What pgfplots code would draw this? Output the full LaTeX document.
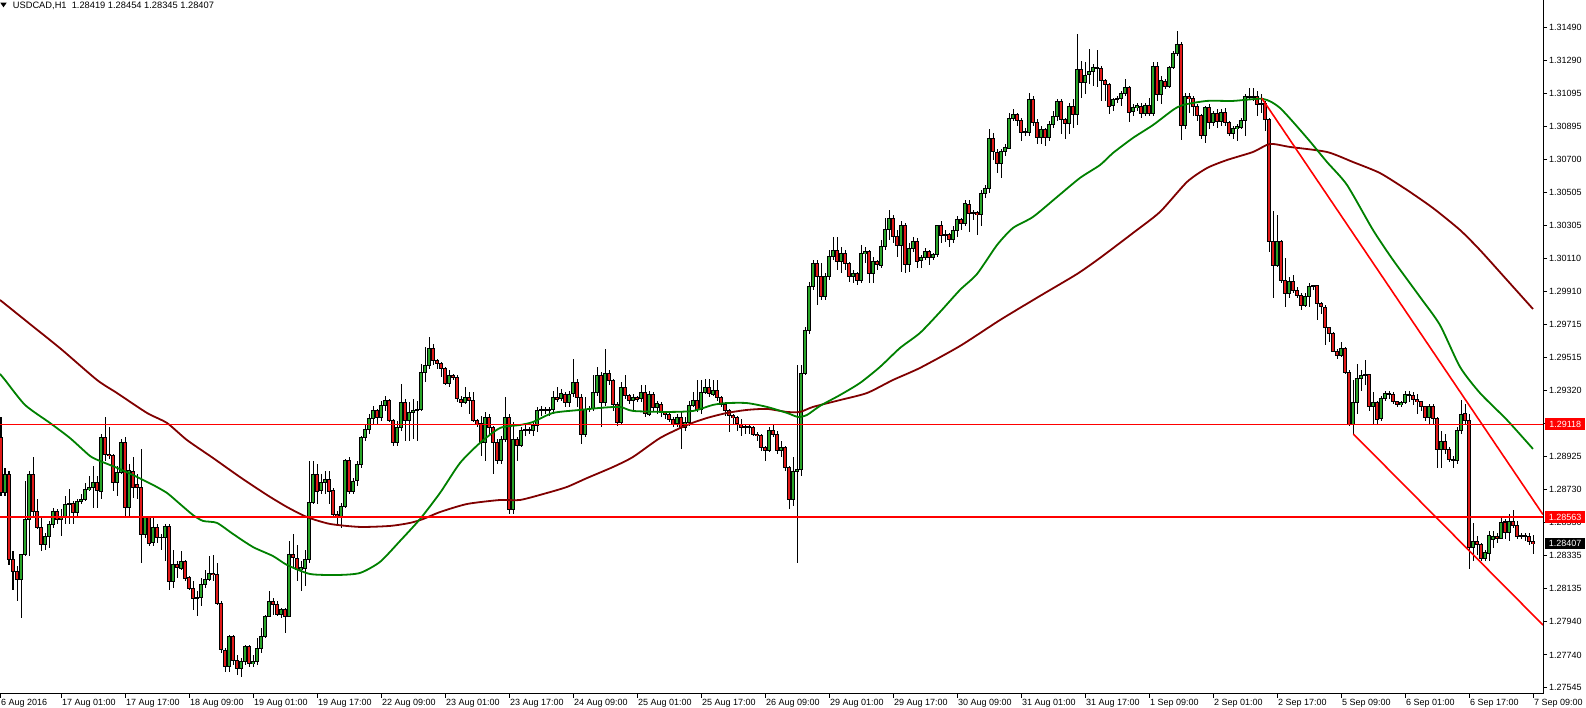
\documentclass[border=0pt]{standalone}
\usepackage{pgfplots}
\pgfplotsset{compat=1.18}
\usepackage{pgfplotstable}
\usepackage{fontspec}
\setmainfont{Liberation Sans}
\newcommand{\tf}{\fontsize{9}{10}\selectfont}
\definecolor{bull}{RGB}{40,165,40}
\definecolor{bear}{RGB}{225,25,25}
\definecolor{mafast}{RGB}{0,128,0}
\definecolor{maslow}{RGB}{128,0,0}
\pgfplotstableread{
k o h l c
1 1.2904 1.2916 1.2869 1.2871
2 1.2871 1.2886 1.2869 1.2882
3 1.2882 1.2884 1.2828 1.2831
4 1.2831 1.2836 1.2813 1.2824
5 1.2824 1.2827 1.2806 1.2819
6 1.2819 1.2834 1.2796 1.2834
7 1.2834 1.2878 1.2833 1.2855
8 1.2855 1.2884 1.2833 1.2882
9 1.2882 1.2892 1.2856 1.2860
10 1.2860 1.2867 1.2849 1.2850
11 1.2850 1.2856 1.2836 1.2840
12 1.2840 1.2847 1.2837 1.2845
13 1.2845 1.2854 1.2838 1.2852
14 1.2852 1.2862 1.2850 1.2860
15 1.2860 1.2861 1.2852 1.2855
16 1.2855 1.2861 1.2845 1.2857
17 1.2857 1.2869 1.2852 1.2864
18 1.2864 1.2873 1.2852 1.28645
19 1.28645 1.2866 1.2852 1.2859
20 1.2859 1.2867 1.2857 1.2866
21 1.2866 1.2870 1.2864 1.2867
22 1.2867 1.2877 1.2866 1.2873
23 1.2873 1.2881 1.2872 1.2874
24 1.2874 1.2887 1.2862 1.2877
25 1.2877 1.2881 1.2862 1.2872
26 1.2872 1.2906 1.2867 1.2904
27 1.2904 1.2916 1.2890 1.2894
28 1.2894 1.2910 1.2891 1.2893
29 1.2893 1.2894 1.2872 1.2877
30 1.2877 1.2887 1.2869 1.2883
31 1.2883 1.2903 1.2882 1.2901
32 1.2901 1.2904 1.2856 1.2862
33 1.2862 1.2888 1.2856 1.2884
34 1.2884 1.2892 1.2868 1.2874
35 1.2876 1.2882 1.2867 1.2874
36 1.2874 1.2897 1.2829 1.2846
37 1.2846 1.2857 1.2844 1.2856
38 1.2856 1.2857 1.2839 1.2841
39 1.2841 1.2857 1.2839 1.2850
40 1.2850 1.2852 1.2841 1.2844
41 1.2844 1.2846 1.2837 1.28445
42 1.28445 1.2852 1.2830 1.2851
43 1.2851 1.2852 1.2813 1.2818
44 1.2818 1.2837 1.2814 1.2828
45 1.2828 1.2830 1.2820 1.2826
46 1.2826 1.2836 1.2825 1.2830
47 1.2830 1.2831 1.2818 1.2820
48 1.2820 1.2821 1.2813 1.2814
49 1.2814 1.2818 1.2801 1.2808
50 1.2808 1.2812 1.2797 1.28085
51 1.28085 1.2820 1.2803 1.2816
52 1.2816 1.2825 1.2814 1.2819
53 1.2819 1.2833 1.2818 1.2823
54 1.2823 1.2834 1.2818 1.2822
55 1.2822 1.2829 1.2804 1.2805
56 1.2805 1.2806 1.2775 1.2777
57 1.2777 1.2778 1.2764 1.2767
58 1.2767 1.2786 1.2764 1.2785
59 1.2785 1.2786 1.2768 1.2771
60 1.2771 1.2774 1.2762 1.2766
61 1.2766 1.2772 1.2761 1.2770
62 1.2770 1.2780 1.2768 1.2779
63 1.2779 1.2780 1.2767 1.2769
64 1.2769 1.2774 1.2767 1.2770
65 1.2770 1.2784 1.2768 1.2778
66 1.2778 1.2790 1.2775 1.2785
67 1.2785 1.2798 1.2784 1.2797
68 1.2797 1.2812 1.2797 1.2806
69 1.2806 1.2808 1.2798 1.2804
70 1.2804 1.2806 1.2797 1.2798
71 1.2798 1.2802 1.2796 1.2801
72 1.2801 1.2802 1.2787 1.2797
73 1.2797 1.2842 1.2797 1.2834
74 1.2834 1.2846 1.2826 1.2832
75 1.2832 1.2840 1.2818 1.2825
76 1.2825 1.2830 1.2812 1.2826
77 1.2826 1.2837 1.2815 1.2831
78 1.2831 1.2890 1.2829 1.2865
79 1.2865 1.2890 1.2864 1.2882
80 1.2882 1.2888 1.2864 1.2872
81 1.2872 1.2882 1.2870 1.2877
82 1.2877 1.2884 1.2870 1.2879
83 1.2879 1.2884 1.2864 1.2872
84 1.2872 1.2874 1.2856 1.2858
85 1.2858 1.2860 1.2852 1.2856
86 1.2856 1.2865 1.2850 1.2863
87 1.2863 1.2891 1.2862 1.2890
88 1.2890 1.2892 1.2870 1.2872
89 1.2872 1.2880 1.2870 1.2878
90 1.2878 1.2890 1.2875 1.2888
91 1.2888 1.2905 1.2886 1.2904
92 1.2904 1.2912 1.2902 1.2909
93 1.2909 1.2918 1.2906 1.2915
94 1.2915 1.2923 1.2912 1.2920
95 1.2920 1.2921 1.2912 1.2916
96 1.2916 1.2926 1.2914 1.2923
97 1.2923 1.2929 1.2920 1.2926
98 1.2926 1.2927 1.2913 1.2914
99 1.2914 1.2915 1.2899 1.2901
100 1.2901 1.2914 1.2899 1.2910
101 1.2910 1.2936 1.2908 1.2925
102 1.2925 1.2927 1.2902 1.2914
103 1.2914 1.2925 1.2902 1.2919
104 1.2919 1.2927 1.2903 1.2920
105 1.2920 1.2926 1.2902 1.29205
106 1.29205 1.2948 1.2920 1.2943
107 1.2943 1.2958 1.2937 1.2947
108 1.2947 1.2964 1.2945 1.2957
109 1.2957 1.2960 1.2947 1.2950
110 1.2950 1.2951 1.2945 1.2948
111 1.2948 1.2949 1.2940 1.2945
112 1.2945 1.2946 1.2935 1.2936
113 1.2936 1.2944 1.2934 1.2941
114 1.2941 1.2942 1.2938 1.2940
115 1.2940 1.2941 1.2925 1.2927
116 1.2927 1.2929 1.2922 1.2925
117 1.2925 1.2934 1.2924 1.2928
118 1.2928 1.2931 1.2918 1.2926
119 1.2926 1.2931 1.2913 1.2914
120 1.2914 1.2915 1.2910 1.2912
121 1.2912 1.2917 1.2893 1.2901
122 1.2901 1.2919 1.2890 1.2916
123 1.2916 1.2918 1.2905 1.2910
124 1.2910 1.2911 1.2882 1.2901
125 1.2901 1.2903 1.2888 1.2890
126 1.2890 1.2905 1.2888 1.2903
127 1.2903 1.2928 1.2901 1.2916
128 1.2916 1.2918 1.2858 1.2861
129 1.2861 1.2913 1.2858 1.2903
130 1.2903 1.2904 1.2890 1.2899
131 1.2899 1.2910 1.2898 1.2908
132 1.2908 1.2912 1.2905 1.29085
133 1.29085 1.2910 1.2906 1.2908
134 1.2908 1.2914 1.2905 1.2911
135 1.2911 1.2922 1.2907 1.2920
136 1.2920 1.2923 1.2917 1.29205
137 1.29205 1.2922 1.2918 1.2920
138 1.2920 1.2922 1.2917 1.29205
139 1.29205 1.2932 1.2918 1.2928
140 1.2928 1.2934 1.2925 1.2927
141 1.2927 1.2933 1.2926 1.2930
142 1.2930 1.2931 1.2922 1.2925
143 1.2925 1.2932 1.2922 1.2930
144 1.2930 1.2951 1.2928 1.2937
145 1.2937 1.2939 1.2922 1.2928
146 1.2928 1.2930 1.2900 1.2906
147 1.2906 1.2928 1.2904 1.2921
148 1.2921 1.2923 1.2919 1.29215
149 1.29215 1.2941 1.2920 1.2931
150 1.2931 1.2946 1.2929 1.2941
151 1.2941 1.2943 1.2910 1.2925
152 1.2925 1.2957 1.2923 1.2942
153 1.2942 1.2944 1.2935 1.2938
154 1.2938 1.2939 1.2920 1.2924
155 1.2924 1.2925 1.2911 1.2913
156 1.2913 1.2937 1.2912 1.2934
157 1.2934 1.2941 1.2927 1.2929
158 1.2929 1.2930 1.2924 1.2926
159 1.2926 1.2930 1.2920 1.2928
160 1.2928 1.2929 1.2925 1.2927
161 1.2927 1.2935 1.2925 1.2931
162 1.2931 1.2935 1.2916 1.2918
163 1.2918 1.2932 1.2917 1.2930
164 1.2930 1.2931 1.2920 1.2922
165 1.2922 1.2926 1.2918 1.2924
166 1.2924 1.2925 1.2916 1.2919
167 1.2919 1.2920 1.2915 1.2918
168 1.2918 1.2919 1.2913 1.2915
169 1.2915 1.2916 1.2910 1.2912
170 1.2912 1.2918 1.2910 1.2916
171 1.2916 1.2919 1.2897 1.2910
172 1.2910 1.2916 1.2908 1.2913
173 1.2913 1.2926 1.2911 1.2923
174 1.2923 1.2931 1.2922 1.2926
175 1.2926 1.2938 1.2919 1.2921
176 1.2921 1.2938 1.2918 1.2931
177 1.2931 1.2939 1.2930 1.2934
178 1.2934 1.2939 1.2928 1.2930
179 1.2930 1.2938 1.2929 1.2932
180 1.2932 1.2938 1.2926 1.2928
181 1.2928 1.2929 1.2922 1.2924
182 1.2924 1.2925 1.2917 1.2920
183 1.2920 1.2921 1.2907 1.2917
184 1.2917 1.2918 1.2912 1.2916
185 1.2916 1.2917 1.2908 1.2912
186 1.2912 1.2915 1.2905 1.2910
187 1.2910 1.2912 1.2906 1.29105
188 1.29105 1.2912 1.2906 1.2910
189 1.2910 1.2911 1.2905 1.2906
190 1.2906 1.2907 1.2902 1.2905
191 1.2905 1.2906 1.2896 1.2898
192 1.2898 1.2899 1.2890 1.2896
193 1.2896 1.2910 1.2895 1.2908
194 1.2908 1.2912 1.2904 1.2906
195 1.2906 1.2908 1.2894 1.2896
196 1.2896 1.2902 1.2892 1.2898
197 1.2898 1.2899 1.2884 1.2886
198 1.2886 1.2887 1.2861 1.2867
199 1.2867 1.2892 1.2863 1.2884
200 1.2884 1.2947 1.2829 1.2885
201 1.2885 1.2947 1.2881 1.2942
202 1.2942 1.2970 1.2941 1.2968
203 1.2968 1.2997 1.2966 1.2994
204 1.2994 1.3010 1.2992 1.3008
205 1.3008 1.3010 1.2983 1.3000
206 1.3000 1.3008 1.2986 1.2988
207 1.2988 1.3002 1.2986 1.3000
208 1.3000 1.3016 1.2998 1.3012
209 1.3012 1.3024 1.3010 1.3016
210 1.3016 1.3024 1.3004 1.3009
211 1.3009 1.3018 1.3002 1.3014
212 1.3014 1.3016 1.3004 1.3008
213 1.3008 1.3009 1.2997 1.3000
214 1.3000 1.3004 1.2996 1.3002
215 1.3002 1.3003 1.2995 1.2998
216 1.2998 1.3019 1.2996 1.3014
217 1.3014 1.3018 1.3008 1.3015
218 1.3015 1.3016 1.2996 1.3002
219 1.3002 1.3012 1.2996 1.3009
220 1.3009 1.3010 1.3004 1.3007
221 1.3007 1.3022 1.3005 1.3018
222 1.3018 1.3035 1.3016 1.3028
223 1.3028 1.3040 1.3022 1.3035
224 1.3035 1.3037 1.3020 1.3024
225 1.3024 1.3028 1.3012 1.30185
226 1.30185 1.3033 1.3003 1.30305
227 1.30305 1.3032 1.3002 1.30075
228 1.30075 1.3020 1.3003 1.3017
229 1.3017 1.3024 1.3015 1.3021
230 1.3021 1.3023 1.3005 1.30095
231 1.30095 1.3013 1.3005 1.30115
232 1.30115 1.3017 1.3010 1.3015
233 1.3015 1.3016 1.3007 1.30115
234 1.30115 1.3014 1.3010 1.30135
235 1.30135 1.3031 1.3012 1.30305
236 1.30305 1.3033 1.3020 1.3025
237 1.3025 1.3028 1.3021 1.30255
238 1.30255 1.3026 1.3018 1.3022
239 1.3022 1.3030 1.3020 1.30275
240 1.30275 1.3036 1.3024 1.3034
241 1.3034 1.3035 1.3028 1.3032
242 1.3032 1.3046 1.3030 1.30435
243 1.30435 1.3046 1.30265 1.3038
244 1.3038 1.3040 1.3034 1.30385
245 1.30385 1.3039 1.3025 1.3037
246 1.3037 1.3052 1.3030 1.30495
247 1.30495 1.3055 1.3047 1.30525
248 1.30525 1.3088 1.3050 1.30825
249 1.30825 1.3086 1.3070 1.30745
250 1.30745 1.3076 1.3062 1.3068
251 1.3068 1.3076 1.3059 1.3075
252 1.3075 1.3079 1.3072 1.3077
253 1.3077 1.3098 1.3076 1.30945
254 1.30945 1.3100 1.3093 1.3097
255 1.3097 1.3098 1.3090 1.30935
256 1.30935 1.3095 1.3081 1.30865
257 1.30865 1.3089 1.3084 1.3086
258 1.3086 1.3110 1.3084 1.3106
259 1.3106 1.3108 1.3090 1.3092
260 1.3092 1.3094 1.3079 1.30835
261 1.30835 1.3090 1.3079 1.3088
262 1.3088 1.3089 1.3078 1.3083
263 1.3083 1.3093 1.3081 1.3091
264 1.3091 1.3099 1.3089 1.3096
265 1.3096 1.3106 1.3093 1.3105
266 1.3105 1.3106 1.3085 1.3094
267 1.3094 1.3095 1.3082 1.30915
268 1.30915 1.3104 1.3085 1.31015
269 1.31015 1.3106 1.3089 1.3097
270 1.3097 1.3145 1.30905 1.3124
271 1.3124 1.3129 1.3107 1.3116
272 1.3116 1.3128 1.3109 1.31205
273 1.31205 1.3136 1.3115 1.31225
274 1.31225 1.3127 1.3114 1.3125
275 1.3125 1.31355 1.31135 1.31245
276 1.31245 1.3126 1.3105 1.3117
277 1.3117 1.3118 1.3105 1.3115
278 1.3115 1.3116 1.3097 1.3102
279 1.3102 1.3107 1.3099 1.3106
280 1.3106 1.3108 1.3104 1.31065
281 1.31065 1.3111 1.3102 1.31095
282 1.31095 1.3118 1.3108 1.3113
283 1.3113 1.3114 1.30925 1.30985
284 1.30985 1.3103 1.3096 1.3101
285 1.3101 1.3104 1.3099 1.3102
286 1.3102 1.3104 1.3095 1.30975
287 1.30975 1.3104 1.3096 1.31025
288 1.31025 1.3107 1.3096 1.30975
289 1.30975 1.3128 1.3096 1.31255
290 1.31255 1.3128 1.3105 1.3109
291 1.3109 1.3120 1.3103 1.3117
292 1.3117 1.3118 1.3112 1.3114
293 1.3114 1.3126 1.3113 1.3125
294 1.3125 1.3135 1.3124 1.31335
295 1.31335 1.3147 1.3132 1.31385
296 1.31385 1.3140 1.30815 1.30905
297 1.30905 1.3110 1.3088 1.31075
298 1.31075 1.3110 1.3098 1.31065
299 1.31065 1.3108 1.3096 1.31015
300 1.31015 1.3103 1.3093 1.30965
301 1.30965 1.3097 1.3082 1.30845
302 1.30845 1.3102 1.3080 1.3101
303 1.3101 1.3103 1.3088 1.3092
304 1.3092 1.3099 1.3090 1.30975
305 1.30975 1.3100 1.3089 1.3093
306 1.3093 1.3100 1.3090 1.3098
307 1.3098 1.3101 1.3090 1.3092
308 1.3092 1.3093 1.3084 1.30855
309 1.30855 1.3090 1.3082 1.30885
310 1.30885 1.3091 1.3081 1.30895
311 1.30895 1.3095 1.3088 1.30935
312 1.30935 1.3109 1.3084 1.31075
313 1.31075 1.3113 1.3106 1.3108
314 1.3108 1.3113 1.3105 1.31075
315 1.31075 1.3111 1.3096 1.3103
316 1.3103 1.3109 1.3098 1.31035
317 1.31035 1.3105 1.3087 1.3094
318 1.3094 1.3095 1.3015 1.3021
319 1.3021 1.3039 1.2987 1.3007
320 1.3007 1.3037 1.3006 1.3021
321 1.3021 1.3022 1.2996 1.2998
322 1.2998 1.3011 1.2982 1.2990
323 1.2990 1.3000 1.2987 1.2997
324 1.2997 1.3001 1.2990 1.2992
325 1.2992 1.2994 1.2987 1.2989
326 1.2989 1.2990 1.2980 1.2983
327 1.2983 1.2990 1.2982 1.2988
328 1.2988 1.2996 1.2982 1.2994
329 1.2994 1.2995 1.2992 1.29945
330 1.29945 1.2995 1.2974 1.2984
331 1.2984 1.2985 1.2978 1.2982
332 1.2982 1.2983 1.2959 1.29695
333 1.29695 1.2970 1.2961 1.2966
334 1.2966 1.2967 1.2955 1.29555
335 1.29555 1.2957 1.2951 1.2953
336 1.2953 1.2961 1.2952 1.2957
337 1.2957 1.2958 1.2942 1.2943
338 1.2943 1.2944 1.2911 1.29115
339 1.29115 1.2938 1.2906 1.2925
340 1.2925 1.2948 1.2918 1.29395
341 1.29395 1.2944 1.2932 1.2941
342 1.2941 1.2950 1.2935 1.29415
343 1.29415 1.2942 1.2920 1.29225
344 1.29225 1.2931 1.2912 1.2925
345 1.2925 1.2926 1.2912 1.2915
346 1.2915 1.2929 1.2914 1.2927
347 1.2927 1.2932 1.2926 1.2930
348 1.2930 1.2932 1.2927 1.29295
349 1.29295 1.2931 1.2924 1.29255
350 1.29255 1.2926 1.2922 1.29235
351 1.29235 1.2926 1.2922 1.2925
352 1.2925 1.2932 1.2924 1.29295
353 1.29295 1.2932 1.2925 1.2929
354 1.2929 1.2931 1.29235 1.29265
355 1.29265 1.2930 1.2918 1.29255
356 1.29255 1.2926 1.2920 1.29225
357 1.29225 1.2923 1.2914 1.2916
358 1.2916 1.2924 1.2912 1.29225
359 1.29225 1.2924 1.2912 1.29155
360 1.29155 1.2916 1.2886 1.2897
361 1.2897 1.2908 1.2886 1.29015
362 1.29015 1.2906 1.2894 1.2897
363 1.2897 1.2898 1.2889 1.2891
364 1.2891 1.2893 1.28855 1.28905
365 1.28905 1.2910 1.2888 1.2908
366 1.2908 1.29265 1.2906 1.2918
367 1.2918 1.2924 1.2912 1.2914
368 1.2914 1.2918 1.28255 1.2838
369 1.2838 1.2853 1.2830 1.2842
370 1.2842 1.2845 1.2834 1.2840
371 1.2840 1.2841 1.2830 1.28315
372 1.28315 1.2837 1.2830 1.2835
373 1.2835 1.2848 1.2830 1.28455
374 1.2843 1.2848 1.2838 1.2845
375 1.2845 1.2847 1.2841 1.28435
376 1.28435 1.2856 1.2843 1.28535
377 1.28535 1.2855 1.2843 1.2847
378 1.2847 1.2858 1.2842 1.2854
379 1.2854 1.28605 1.2850 1.28515
380 1.28515 1.2854 1.2843 1.2845
381 1.2845 1.2847 1.2843 1.28455
382 1.28455 1.2847 1.2842 1.2845
383 1.2845 1.2847 1.2840 1.2842
384 1.28419 1.28454 1.28345 1.28407
}\candles
\pgfplotstableread{
k v
0.75 1.29419
2 1.29383
7 1.29234
13.25 1.29126
18.25 1.29036
23.25 1.28929
25.75 1.28899
29.5 1.28863
34 1.28815
39 1.28756
42.5 1.28708
45.75 1.28642
49 1.28576
51.5 1.28541
55 1.28529
59 1.28463
64 1.28385
69 1.28331
72.5 1.28278
78.25 1.28224
85.25 1.28218
90.75 1.28230
95.75 1.28296
100.75 1.28421
105.75 1.28552
110.75 1.28708
115.75 1.28887
120.75 1.29007
125.75 1.29096
130.75 1.29114
134 1.29132
139 1.29186
145.75 1.29204
150.75 1.29216
155.75 1.29222
159 1.29198
167.5 1.29192
174 1.29198
179 1.29234
182.5 1.29245
187.5 1.29245
192.5 1.29222
197.5 1.29186
200.25 1.29162
202.5 1.29174
205.75 1.29228
210.75 1.29293
215.75 1.29365
220.75 1.29461
225.75 1.29574
230.75 1.29664
235.75 1.29789
240.75 1.29921
245 1.30016
250 1.30189
254 1.30291
259 1.30357
265 1.30476
270.75 1.30590
275.75 1.30667
279 1.30739
284 1.30829
289 1.30906
294 1.30996
296.5 1.31026
302.5 1.31050
309 1.31050
316.5 1.31062
320.75 1.31008
327.5 1.30829
332.5 1.30685
337.5 1.30548
344 1.30279
349 1.30100
355.75 1.29879
360.75 1.29711
365.75 1.29461
370.75 1.29305
377.5 1.29144
384 1.28971
}\fastma
\pgfplotstableread{
k v
0.75 1.29861
8.25 1.29717
16 1.29568
25 1.29383
30 1.29305
37.5 1.29186
42.5 1.29126
47.5 1.29024
54 1.28917
60.75 1.28803
67.5 1.28696
72.5 1.28624
77.5 1.28564
83.25 1.28523
90.75 1.28505
98.25 1.28511
103.25 1.28529
106.5 1.28552
110.75 1.28594
117.5 1.28642
125.75 1.28666
130.75 1.28666
137.5 1.28708
142.5 1.28744
147.5 1.28797
154 1.28863
159 1.28923
165.75 1.29036
172.5 1.29114
177.5 1.29156
182.5 1.29186
187.5 1.29204
192.5 1.29210
197.5 1.29192
200.75 1.29192
204 1.29222
210.75 1.29263
217.5 1.29305
224 1.29383
230.75 1.29455
240.75 1.29586
250.75 1.29741
260.75 1.29885
270 1.30016
275.75 1.30112
284 1.30261
290.75 1.30387
297.5 1.30566
302.5 1.30649
307.5 1.30697
314 1.30745
318.25 1.30793
323.25 1.30775
332.5 1.30745
339 1.30685
345.75 1.30619
352.5 1.30518
359 1.30410
365.75 1.30279
370.75 1.30159
377.5 1.29980
384 1.29807
}\slowma
\begin{document}
\begin{tikzpicture}
\begin{axis}[
  at={(0pt,14pt)}, anchor=south west,
  scale only axis, width=1543pt, height=694pt,
  xmin=0.75, xmax=386.5, ymin=1.27507, ymax=1.31653,
  axis x line*=bottom, axis y line*=right,
  axis line style={-, black, line width=1pt},
  tick align=outside, major tick length=4pt,
  every tick/.style={black, line width=1pt},
  xtick={0.75,16,32,48,64,80,96,112,128,144,160,176,192,208,224,240,256,272,288,304,320,336,352,368,384},
  xticklabels={6 Aug 2016,17 Aug 01:00,17 Aug 17:00,18 Aug 09:00,19 Aug 01:00,19 Aug 17:00,22 Aug 09:00,23 Aug 01:00,23 Aug 17:00,24 Aug 09:00,25 Aug 01:00,25 Aug 17:00,26 Aug 09:00,29 Aug 01:00,29 Aug 17:00,30 Aug 09:00,31 Aug 01:00,31 Aug 17:00,1 Sep 09:00,2 Sep 01:00,2 Sep 17:00,5 Sep 09:00,6 Sep 01:00,6 Sep 17:00,7 Sep 09:00},
  xticklabel style={anchor=north west, inner sep=0pt, font=\tf, xshift=1pt, yshift=-1pt},
  ytick={1.27545,1.27740,1.27940,1.28135,1.28335,1.28530,1.28730,1.28925,1.29125,1.29320,1.29515,1.29715,1.29910,1.30110,1.30305,1.30505,1.30700,1.30895,1.31095,1.31290,1.31490},
  yticklabels={1.27545,1.27740,1.27940,1.28135,1.28335,1.28530,1.28730,1.28925,1.29125,1.29320,1.29515,1.29715,1.29910,1.30110,1.30305,1.30505,1.30700,1.30895,1.31095,1.31290,1.31490},
  yticklabel style={anchor=west, inner sep=0pt, font=\tf, xshift=2pt},
  clip=true,
]
% wicks
\addplot[forget plot, draw=none, mark=none,
  error bars/.cd, y dir=both, y explicit, error mark=none,
  error bar style={draw=black, line width=1pt}]
  table[x=k, y=c, y error plus expr={\thisrow{h}-\thisrow{c}}, y error minus expr={\thisrow{c}-\thisrow{l}}] {\candles};
% body outlines
\addplot[forget plot, draw=none, mark=none,
  error bars/.cd, y dir=both, y explicit, error mark=none,
  error bar style={draw=black, line width=3.2pt}]
  table[x=k, y expr={(\thisrow{o}+\thisrow{c})/2}, y error expr={abs(\thisrow{o}-\thisrow{c})/2+0.00003}] {\candles};
% bull bodies
\addplot[forget plot, draw=none, mark=none,
  restrict expr to domain={\thisrow{c}-\thisrow{o}}{0.00007:1},
  error bars/.cd, y dir=both, y explicit, error mark=none,
  error bar style={draw=bull, line width=1.4pt}]
  table[x=k, y expr={(\thisrow{o}+\thisrow{c})/2}, y error expr={abs(\thisrow{o}-\thisrow{c})/2-0.00003}] {\candles};
% bear bodies
\addplot[forget plot, draw=none, mark=none,
  restrict expr to domain={\thisrow{c}-\thisrow{o}}{-1:-0.00007},
  error bars/.cd, y dir=both, y explicit, error mark=none,
  error bar style={draw=bear, line width=1.4pt}]
  table[x=k, y expr={(\thisrow{o}+\thisrow{c})/2}, y error expr={abs(\thisrow{o}-\thisrow{c})/2-0.00003}] {\candles};
% moving averages
\addplot[maslow, line width=1.8pt, line join=round, mark=none, smooth, tension=0.4] table[x=k, y=v] {\slowma};
\addplot[mafast, line width=1.8pt, line join=round, mark=none, smooth, tension=0.4] table[x=k, y=v] {\fastma};
% horizontal levels
\addplot[red, line width=1pt, mark=none] coordinates {(0.75,1.29118) (386.5,1.29118)};
\addplot[red, line width=2pt, mark=none] coordinates {(0.75,1.28563) (386.5,1.28563)};
% trend lines
\addplot[red, line width=1.6pt, mark=none] coordinates {(316.2,1.31066) (386.5,1.28579)};
\addplot[red, line width=1.6pt, mark=none] coordinates {(339.1,1.29060) (386.5,1.27919)};
\coordinate (lab1) at (axis cs:386.5,1.29118);
\coordinate (lab2) at (axis cs:386.5,1.28563);
\coordinate (lab3) at (axis cs:386.5,1.28407);
\end{axis}
\node[fill=red, text=white, font=\tf, anchor=west, inner sep=0pt, minimum width=40pt, minimum height=12pt] at ([xshift=2pt]lab1) {1.29118};
\node[fill=red, text=white, font=\tf, anchor=west, inner sep=0pt, minimum width=40pt, minimum height=12pt] at ([xshift=2pt]lab2) {1.28563};
\node[fill=black, text=white, font=\tf, anchor=west, inner sep=0pt, minimum width=40pt, minimum height=11pt] at ([xshift=2pt]lab3) {1.28407};
\fill[black] (0.3pt,705.3pt) -- (6.7pt,705.3pt) -- (3.5pt,700.7pt) -- cycle;
\node[anchor=north west, inner sep=0pt, font=\fontsize{9.3}{10}\selectfont] at (12.7pt,706pt) {USDCAD,H1\ \ 1.28419 1.28454 1.28345 1.28407};
\pgfresetboundingbox
\path[use as bounding box] (0pt,0pt) rectangle (1586pt,708pt);
\end{tikzpicture}
\end{document}
